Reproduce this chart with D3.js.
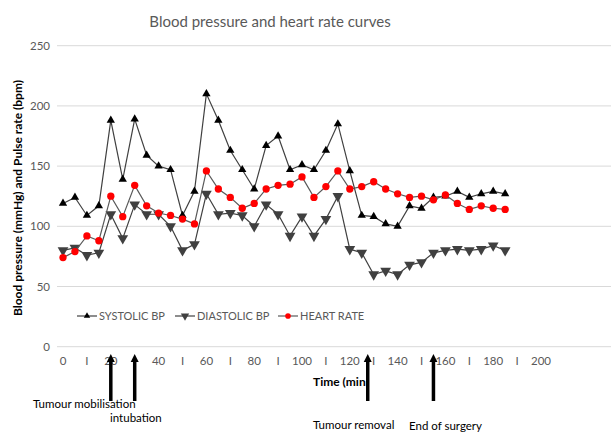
<!DOCTYPE html>
<html>
<head>
<meta charset="utf-8">
<script src="https://cdn.jsdelivr.net/npm/d3@7"></script>
<style>
  body { margin: 0; background: #fff; }
  svg { display: block; font-family: Lato, "Open Sans", sans-serif; }
</style>
</head>
<body>
<svg id="chart" width="611" height="434"></svg>
<script>
// minutes, one reading every 5 min
var times = d3.range(0, 190, 5)
var systolic = [119, 124, 109, 117, 188, 139, 189, 159, 150, 147, 109, 129, 210, 188, 163, 147, 131, 167, 175, 147,
  151, 147, 163, 185, 146, 109, 108, 102, 100, 117, 115, 124, 125, 129, 124, 127, 129, 127]
var diastolic = [80, 82, 76, 78, 110, 90, 118, 110, 110, 100, 80, 85, 127, 110, 111, 109, 100, 118, 110, 92,
  108, 92, 106, 125, 81, 78, 60, 63, 60, 68, 70, 78, 80, 81, 80, 81, 84, 80]
var heartRate = [74, 79, 92, 88, 125, 108, 134, 117, 111, 109, 106, 102, 146, 131, 124, 115, 119, 131, 134, 135,
  141, 124, 133, 146, 131, 133, 137, 131, 127, 124, 125, 122, 126, 119, 114, 117, 115, 114]

var xTickValues = d3.range(0, 210, 10)
var xTickLabels = ["0", "I", "20", "I", "40", "I", "60", "I", "80", "I", "100", "I", "120", "I", "140", "I", "160", "I", "180", "I", "200"]
var yTicks = [0, 50, 100, 150, 200, 250]

var eventTimes = [20, 30, 127.5, 155]
var eventLabels = ["Tumour mobilisation", "intubation", "Tumour removal", "End of surgery"]

var grey = "#595959"

var svg = d3.select("#chart")

var x = d3.scaleLinear().domain([0, 200]).range([63, 541])
var y = d3.scaleLinear().domain([0, 250]).range([346.7, 45.7])

svg.append("text")
  .attr("x", 270).attr("y", 27)
  .attr("text-anchor", "middle")
  .attr("fill", grey)
  .style("font-size", "15px")
  .text("Blood pressure and heart rate curves")

// gridlines + y labels
var yAxis = svg.append("g")
yAxis.selectAll("line").data(yTicks).enter().append("line")
  .attr("x1", 57).attr("x2", 611)
  .attr("y1", function(d) { return y(d) }).attr("y2", function(d) { return y(d) })
  .attr("stroke", "#d9d9d9").attr("stroke-width", 1)
yAxis.selectAll("text").data(yTicks).enter().append("text")
  .attr("x", 50).attr("y", function(d) { return y(d) })
  .attr("dy", "0.35em")
  .attr("text-anchor", "end")
  .attr("fill", grey)
  .style("font-size", "11.5px")
  .text(function(d) { return d })

// x tick labels
svg.append("g").selectAll("text").data(xTickValues).enter().append("text")
  .attr("x", function(d) { return x(d) }).attr("y", 361)
  .attr("dy", "0.35em")
  .attr("text-anchor", "middle")
  .attr("fill", grey)
  .style("font-size", "11.5px")
  .text(function(d, i) { return xTickLabels[i] })

svg.append("text")
  .attr("transform", "translate(22,198) rotate(-90)")
  .attr("text-anchor", "middle")
  .attr("fill", "#000")
  .style("font-size", "12px")
  .style("font-weight", "bold")
  .text("Blood pressure (mmHg) and Pulse rate (bpm)")

svg.append("text")
  .attr("x", 313).attr("y", 386)
  .attr("fill", "#000")
  .style("font-size", "12px")
  .style("font-weight", "bold")
  .text("Time (min")

var line = function(vals) {
  return d3.line()
    .x(function(d, i) { return x(times[i]) })
    .y(function(d) { return y(d) })(vals)
}

var series = [
  { name: "SYSTOLIC BP", vals: systolic, stroke: "#404040", fill: "#000", sym: d3.symbolTriangle, size: 30, rot: 0 },
  { name: "DIASTOLIC BP", vals: diastolic, stroke: "#404040", fill: "#404040", sym: d3.symbolTriangle, size: 50, rot: 180 },
  { name: "HEART RATE", vals: heartRate, stroke: "#595959", fill: "#ff0000", sym: d3.symbolCircle, size: 42, rot: 0 }
]

series.forEach(function(s) {
  svg.append("path")
    .attr("d", line(s.vals))
    .attr("fill", "none")
    .attr("stroke", s.stroke)
    .attr("stroke-width", 1.2)

  svg.append("g").selectAll("path").data(s.vals).enter().append("path")
    .attr("d", d3.symbol().type(s.sym).size(s.size))
    .attr("transform", function(d, i) {
      return "translate(" + x(times[i]) + "," + y(d) + ") rotate(" + s.rot + ")"
    })
    .attr("fill", s.fill)
})

// legend
var legendX = [77, 175, 278]
series.forEach(function(s, i) {
  var lg = svg.append("g").attr("transform", "translate(" + legendX[i] + ",316)")
  lg.append("line").attr("x1", 0).attr("x2", 20).attr("stroke", s.stroke).attr("stroke-width", 1.2)
  lg.append("path")
    .attr("d", d3.symbol().type(s.sym).size(s.size * 0.6))
    .attr("transform", "translate(10,0) rotate(" + s.rot + ")")
    .attr("fill", s.fill)
  lg.append("text")
    .attr("x", 22).attr("dy", "0.35em")
    .attr("fill", grey)
    .style("font-size", "11px")
    .text(s.name)
})

// event arrows
var arrows = svg.append("g")
eventTimes.forEach(function(t) {
  var ax = x(t)
  arrows.append("line")
    .attr("x1", ax).attr("x2", ax)
    .attr("y1", 401).attr("y2", 360)
    .attr("stroke", "#000").attr("stroke-width", 3.5)
  arrows.append("path")
    .attr("d", "M" + (ax - 4) + ",362 L" + ax + ",354 L" + (ax + 4) + ",362 Z")
    .attr("fill", "#000")
})

var labelPos = [[33, 408], [110, 422], [313, 429], [409, 430]]
eventLabels.forEach(function(lbl, i) {
  svg.append("text")
    .attr("x", labelPos[i][0]).attr("y", labelPos[i][1])
    .attr("fill", "#000")
    .style("font-size", "11.5px")
    .text(lbl)
})
</script>
</body>
</html>
